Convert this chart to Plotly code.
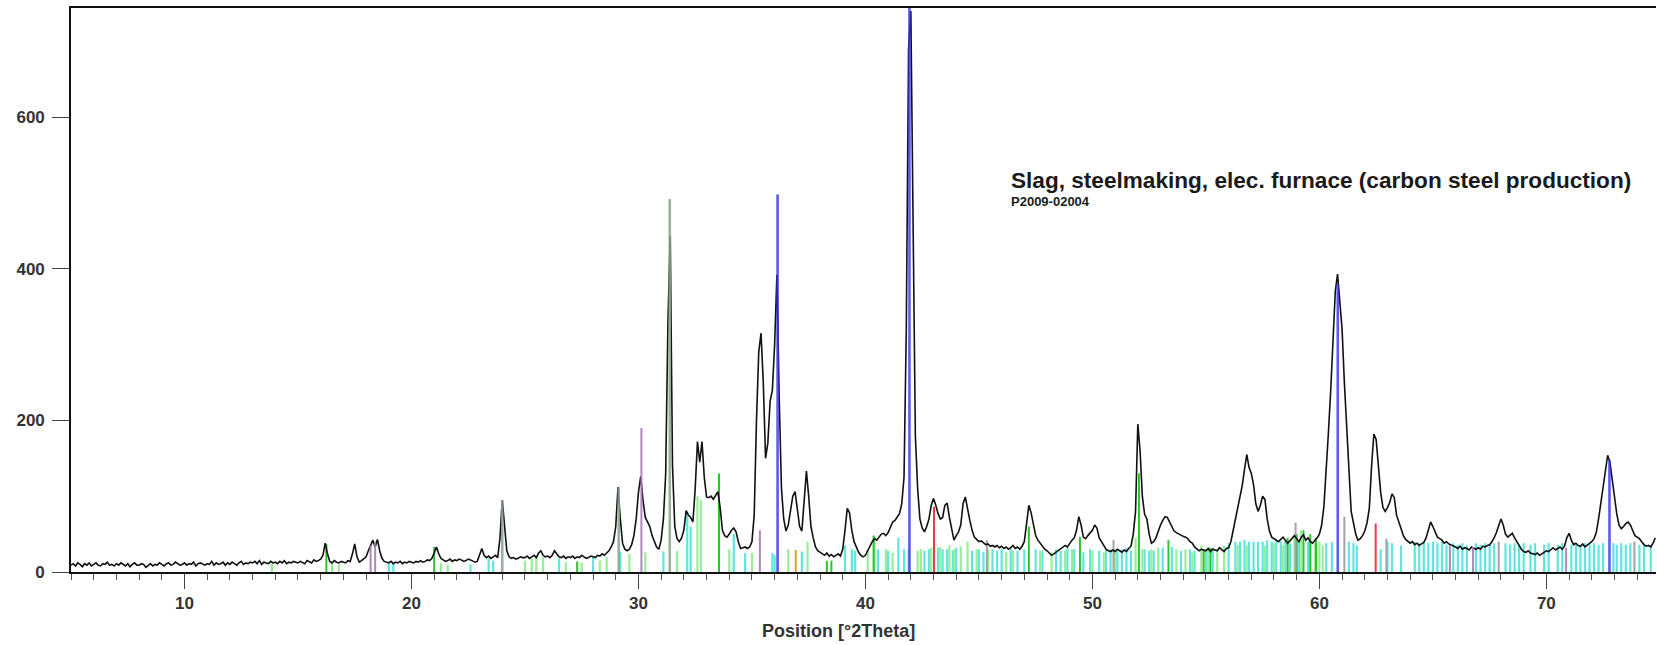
import plotly.graph_objects as go

# ---------------- measured pattern (step 0.1 deg, starting at 5.0 deg) ----------------
start_2theta = 5.0
step_2theta = 0.1
counts = [
    9, 11, 8, 12, 10, 7, 11, 9, 12, 8,          # 5
    10, 12, 9, 8, 11, 10, 13, 9, 10, 8,         # 6
    11, 9, 12, 10, 8, 11, 7, 10, 12, 9,         # 7
    9, 11, 10, 6, 9, 11, 8, 10, 9, 12,          # 8
    10, 8, 11, 12, 9, 10, 13, 11, 9, 10,        # 9
    12, 9, 11, 10, 13, 8, 11, 12, 10, 9,        # 10
    11, 10, 14, 9, 12, 10, 11, 13, 9, 12,       # 11
    10, 13, 11, 9, 12, 14, 10, 12, 11, 13,      # 12
    12, 14, 11, 15, 10, 13, 12, 11, 14, 12,     # 13
    13, 11, 14, 12, 15, 11, 13, 12, 14, 13,     # 14
    12, 14, 13, 11, 15, 13, 12, 16, 14, 15,     # 15
    17, 22, 38, 24, 14, 12, 15, 13, 12, 14,     # 16
    13, 12, 15, 14, 24, 37, 20, 13, 15, 18,     # 17
    20, 28, 36, 42, 33, 43, 28, 18, 14, 13,     # 18
    12, 14, 11, 13, 12, 14, 11, 13, 12, 14,     # 19
    13, 12, 14, 13, 15, 13, 14, 16, 15, 18,     # 20
    25, 33, 24, 18, 16, 14, 15, 17, 14, 16,     # 21
    15, 17, 16, 14, 15, 17, 16, 15, 13, 14,     # 22
    24, 31, 22, 19, 21, 18, 20, 22, 19, 45,     # 23
    95, 60, 28, 20, 18, 19, 17, 18, 20, 19,     # 24
    19, 21, 18, 20, 22, 19, 25, 28, 22, 20,     # 25
    21, 19, 22, 28, 24, 20, 19, 21, 18, 20,     # 26
    19, 21, 18, 20, 19, 22, 20, 18, 19, 21,     # 27
    20, 19, 22, 21, 24, 22, 25, 28, 33, 40,     # 28
    60, 112, 70, 38, 30, 28, 30, 36, 48, 70,    # 29
    105, 126, 95, 72, 66, 60, 48, 40, 33, 30,   # 30
    42, 70, 130, 330, 444, 140, 60, 44, 40, 45, # 31
    55, 81, 75, 72, 66, 110, 172, 145, 172, 125,  # 32
    99, 98, 100, 96, 101, 106, 85, 55, 48, 46,  # 33
    50, 55, 58, 53, 40, 31, 32, 33, 31, 33,     # 34
    40, 75, 200, 290, 315, 250, 150, 170, 225, 240,  # 35
    300, 392, 230, 110, 70, 54, 62, 80, 100, 106,    # 36
    85, 60, 54, 95, 133, 100, 60, 45, 33, 28,   # 37
    26, 24, 22, 25, 21, 23, 20, 22, 24, 21,     # 38
    30, 55, 84, 78, 55, 40, 32, 26, 22, 20,     # 39
    22, 28, 35, 40, 44, 42, 46, 50, 51, 48,     # 40
    52, 58, 66, 68, 72, 77, 90, 125, 320, 690,  # 41
    740, 470, 180, 110, 70, 58, 53, 60, 70, 88, # 42
    97, 88, 77, 70, 72, 88, 91, 72, 55, 42,     # 43
    48, 53, 62, 90, 99, 82, 68, 55, 46, 43,     # 44
    40, 41, 38, 36, 37, 34, 35, 33, 35, 32,     # 45
    34, 31, 33, 30, 32, 35, 31, 33, 30, 34,     # 46
    40, 62, 88, 78, 60, 48, 42, 38, 34, 30,     # 47
    28, 25, 22, 24, 26, 28, 30, 32, 35, 33,     # 48
    38, 42, 45, 55, 73, 62, 46, 44, 48, 52,     # 49
    55, 62, 58, 45, 40, 35, 30, 28, 27, 29,     # 50
    27, 30, 28, 26, 29, 27, 31, 34, 50, 80,     # 51
    195, 160, 100, 76, 70, 50, 38, 40, 45, 55,  # 52
    62, 68, 73, 72, 66, 60, 54, 52, 50, 48,     # 53
    47, 46, 44, 40, 38, 33, 30, 28, 30, 29,     # 54
    28, 31, 27, 30, 29, 28, 32, 30, 27, 31,     # 55
    32, 40, 55, 70, 80, 95, 114, 135, 155, 138, # 56
    130, 115, 90, 80, 88, 100, 96, 70, 54, 46,  # 57
    44, 42, 40, 43, 46, 42, 38, 41, 45, 48,     # 58
    44, 40, 46, 49, 42, 45, 40, 38, 42, 45,     # 59
    50, 62, 87, 130, 185, 240, 300, 370, 393, 360,   # 60
    320, 250, 190, 140, 80, 65, 50, 42, 44, 48,      # 61
    54, 65, 84, 140, 182, 175, 140, 105, 85, 80,     # 62
    85, 92, 103, 98, 75, 65, 55, 48, 43, 40,    # 63
    38, 40, 36, 38, 35, 37, 39, 45, 55, 66,     # 64
    60, 52, 46, 44, 42, 38, 40, 37, 36, 35,     # 65
    33, 31, 34, 30, 32, 31, 29, 33, 31, 30,     # 66
    32, 30, 34, 33, 35, 36, 40, 45, 52, 62,     # 67
    70, 62, 50, 46, 48, 51, 45, 40, 35, 30,     # 68
    27, 26, 28, 25, 24, 23, 25, 22, 24, 26,     # 69
    28, 27, 30, 32, 29, 31, 33, 30, 34, 45,     # 70
    51, 42, 36, 38, 35, 34, 37, 33, 35, 38,     # 71
    40, 44, 52, 70, 91, 115, 140, 154, 145, 120,     # 72
    95, 77, 62, 57, 60, 64, 66, 62, 55, 48,     # 73
    46, 44, 40, 36, 34, 35, 33, 38, 45,         # 74
]
two_theta = [round(start_2theta + step_2theta * i, 2) for i in range(len(counts))]

# ---------------- reference stick patterns ----------------
cyan_pos = [19.0, 19.2, 22.6, 23.4, 23.6, 26.5, 28.0, 29.2, 31.1, 32.15, 32.3, 34.2, 34.7, 35.9, 36.0,
            37.2, 39.1, 39.4, 39.55, 40.55, 41.0, 41.45, 41.7, 42.6, 42.8, 43.2, 43.4, 43.6, 43.85,
            44.0, 44.7, 45.0, 45.2, 45.6, 45.8, 46.0, 46.4, 46.7, 47.0, 47.5, 47.8, 48.4, 48.6, 48.9,
            49.2, 49.6, 49.9, 50.3, 50.6, 50.8, 51.1, 51.3, 51.5, 51.7, 52.3, 52.5, 52.7, 53.1, 53.5,
            53.9, 54.3, 54.5, 55.0, 55.3, 56.0, 56.3, 56.5, 56.7, 56.9, 57.1, 57.3, 57.5, 57.7, 57.9,
            58.1, 58.3, 58.5, 58.7, 59.1, 59.5, 60.3, 60.55, 61.3, 61.5, 61.65, 62.7, 63.0, 63.2,
            63.6, 64.2, 64.4, 64.6, 64.8, 65.0, 65.2, 65.4, 65.6, 65.9, 66.1, 66.3, 66.5, 66.9, 67.1,
            67.3, 67.5, 67.7, 68.2, 68.4, 68.6, 68.8, 69.0, 69.3, 69.5, 69.9, 70.1, 70.5, 70.7, 71.1,
            71.3, 71.5, 71.7, 71.9, 72.1, 72.3, 72.5, 72.95, 73.1, 73.3, 73.5, 73.7, 74.1, 74.3, 74.6]
cyan_h = [14, 12, 10, 18, 15, 18, 20, 27, 27, 80, 60, 50, 25, 25, 22,
          27, 35, 30, 28, 30, 28, 45, 30, 28, 30, 32, 30, 30, 28,
          32, 28, 30, 26, 30, 28, 30, 32, 28, 30, 30, 28, 30, 28, 32,
          30, 26, 30, 28, 30, 30, 28, 30, 32, 28, 30, 28, 28, 32, 33,
          28, 30, 28, 30, 32, 38, 40, 40, 42, 40, 40, 40, 40, 42, 40,
          42, 40, 42, 38, 40, 40, 38, 40, 40, 38, 35, 30, 40, 38,
          35, 40, 38, 40, 38, 40, 38, 40, 36, 38, 36, 38, 35, 38, 36,
          38, 36, 38, 38, 36, 38, 36, 38, 36, 38, 36, 38, 36, 38, 36,
          38, 36, 38, 36, 38, 36, 38, 38, 36, 38, 36, 38, 36, 38, 36]

lightgreen_pos = [13.85, 16.5, 16.8, 21.3, 21.6, 25.0, 25.3, 25.5, 25.8, 26.8, 27.5, 28.3, 28.6, 29.6,
                  30.3, 31.7, 32.6, 32.75, 34.0, 35.0, 36.6, 37.45, 40.1, 40.4, 40.9, 41.2, 41.9, 42.3,
                  42.45, 42.9, 43.3, 43.7, 43.9, 44.2, 44.5, 44.9, 45.4, 46.2, 46.5, 47.7, 48.2, 48.8,
                  49.1, 50.0, 50.5, 51.0, 51.9, 52.2, 52.6, 52.9, 53.7, 54.1, 54.4, 54.8, 55.1, 55.5,
                  55.8, 56.4, 56.8, 57.6, 58.0, 58.4, 58.9, 59.2, 59.6, 59.8, 60.0, 60.15]
lightgreen_h = [12, 12, 10, 12, 10, 15, 18, 20, 20, 13, 12, 15, 20, 24,
                26, 28, 100, 95, 30, 25, 30, 40, 30, 48, 30, 25, 30, 28,
                30, 32, 33, 35, 30, 34, 40, 30, 30, 26, 28, 28, 26, 28,
                30, 28, 26, 30, 45, 30, 30, 32, 30, 30, 26, 35, 32, 30,
                35, 36, 35, 35, 38, 35, 45, 55, 42, 38, 40, 35]

green_pos = [16.25, 21.0, 27.3, 33.55, 38.3, 38.5, 40.36, 47.2, 49.45, 52.05, 53.35, 54.9, 55.2,
             58.6, 59.0, 59.3, 59.6, 59.85]
green_h = [37, 33, 14, 130, 15, 15, 48, 60, 46, 130, 42, 30, 32, 45, 50, 55, 50, 45]

gray_pos = [45.35, 50.93, 58.95, 61.1, 62.95, 67.9, 73.88]
gray_h = [42, 42, 65, 73, 44, 40, 40]

orange_pos = [36.93]
orange_h = [29]

graygreen_pos = [24.0, 29.13, 31.38]
graygreen_h = [95, 112, 492]

purple_pos = [18.2, 18.4, 30.13, 35.35, 65.75, 66.77, 70.87]
purple_h = [35, 40, 190, 55, 35, 33, 32]

red_pos = [43.02, 62.48]
red_h = [86, 64]

blue_pos = [36.13, 41.94, 60.81, 72.78]
blue_h = [498, 800, 380, 148]

x_ticks = [10, 20, 30, 40, 50, 60, 70]
y_ticks = [0, 200, 400, 600]

title_text = "Slag, steelmaking, elec. furnace (carbon steel production)"
sub_text = "P2009-02004"
x_title = "Position [°2Theta]"


def sticks(pos, h):
    xs, ys = [], []
    for p, v in zip(pos, h):
        xs += [p, p, None]
        ys += [0, v, None]
    return xs, ys


fig = go.Figure()


def add_sticks(pos, h, color, width=2.0, opacity=1.0):
    xs, ys = sticks(pos, h)
    fig.add_trace(go.Scatter(x=xs, y=ys, mode="lines", line=dict(color=color, width=width),
                             opacity=opacity, hoverinfo="skip", showlegend=False))


add_sticks(cyan_pos, cyan_h, "#4fe3dc", 2.2, 0.9)
add_sticks(lightgreen_pos, lightgreen_h, "#94ee94", 2.2, 0.95)
add_sticks(green_pos, green_h, "#2cc42c", 2.0)
add_sticks(gray_pos, gray_h, "#a4a4a4", 2.0)
add_sticks(orange_pos, orange_h, "#e0a030", 2.0)

fig.add_trace(go.Scatter(x=two_theta, y=counts, mode="lines",
                         line=dict(color="#111111", width=1.6), showlegend=False))

add_sticks(graygreen_pos, graygreen_h, "#8aa48a", 2.6, 0.85)
add_sticks(purple_pos, purple_h, "#a87ab4", 2.0, 0.9)
add_sticks(red_pos, red_h, "#f03848", 2.0)
add_sticks(blue_pos, blue_h, "#3434e6", 2.6, 0.8)

tick_font = dict(family="Liberation Sans, Arial, sans-serif", size=17, color="#333333", weight="bold")

fig.update_layout(
    width=1657, height=645,
    margin=dict(l=71, r=1, t=8, b=73),
    plot_bgcolor="white", paper_bgcolor="white",
    showlegend=False,
    xaxis=dict(range=[5, 74.83], tickmode="array", tickvals=x_ticks, ticks="outside",
               ticklen=15, tickwidth=1.3, tickcolor="#444444", tickfont=tick_font,
               showline=True, linecolor="#111111", linewidth=1.6, mirror=True,
               showgrid=False, zeroline=False,
               minor=dict(ticks="outside", ticklen=6, tickwidth=1, tickcolor="#555555",
                          dtick=1, tick0=0, showgrid=False)),
    yaxis=dict(range=[0, 744], tickmode="array", tickvals=y_ticks, ticks="outside",
               ticklen=17, tickwidth=1.3, tickcolor="#444444", tickfont=tick_font,
               ticklabelstandoff=4,
               showline=True, linecolor="#111111", linewidth=1.6,
               showgrid=False, zeroline=False),
    annotations=[
        dict(text=x_title, xref="paper", yref="paper", x=0.484, y=-0.105,
             xanchor="center", yanchor="middle", showarrow=False,
             font=dict(family="Liberation Sans, Arial, sans-serif", size=18, color="#333333",
                       weight="bold")),
        dict(text=title_text, xref="paper", yref="paper", x=0.592, y=0.695,
             xanchor="left", yanchor="middle", showarrow=False,
             font=dict(family="Liberation Sans, Arial, sans-serif", size=22.6, color="#1a1a1a",
                       weight="bold")),
        dict(text=sub_text, xref="paper", yref="paper", x=0.592, y=0.657,
             xanchor="left", yanchor="middle", showarrow=False,
             font=dict(family="Liberation Sans, Arial, sans-serif", size=13, color="#1a1a1a",
                       weight="bold")),
    ],
)

fig.write_html("out.html", config={"displayModeBar": False},
               post_script="document.body.style.margin='0px';document.body.style.overflow='hidden';")
